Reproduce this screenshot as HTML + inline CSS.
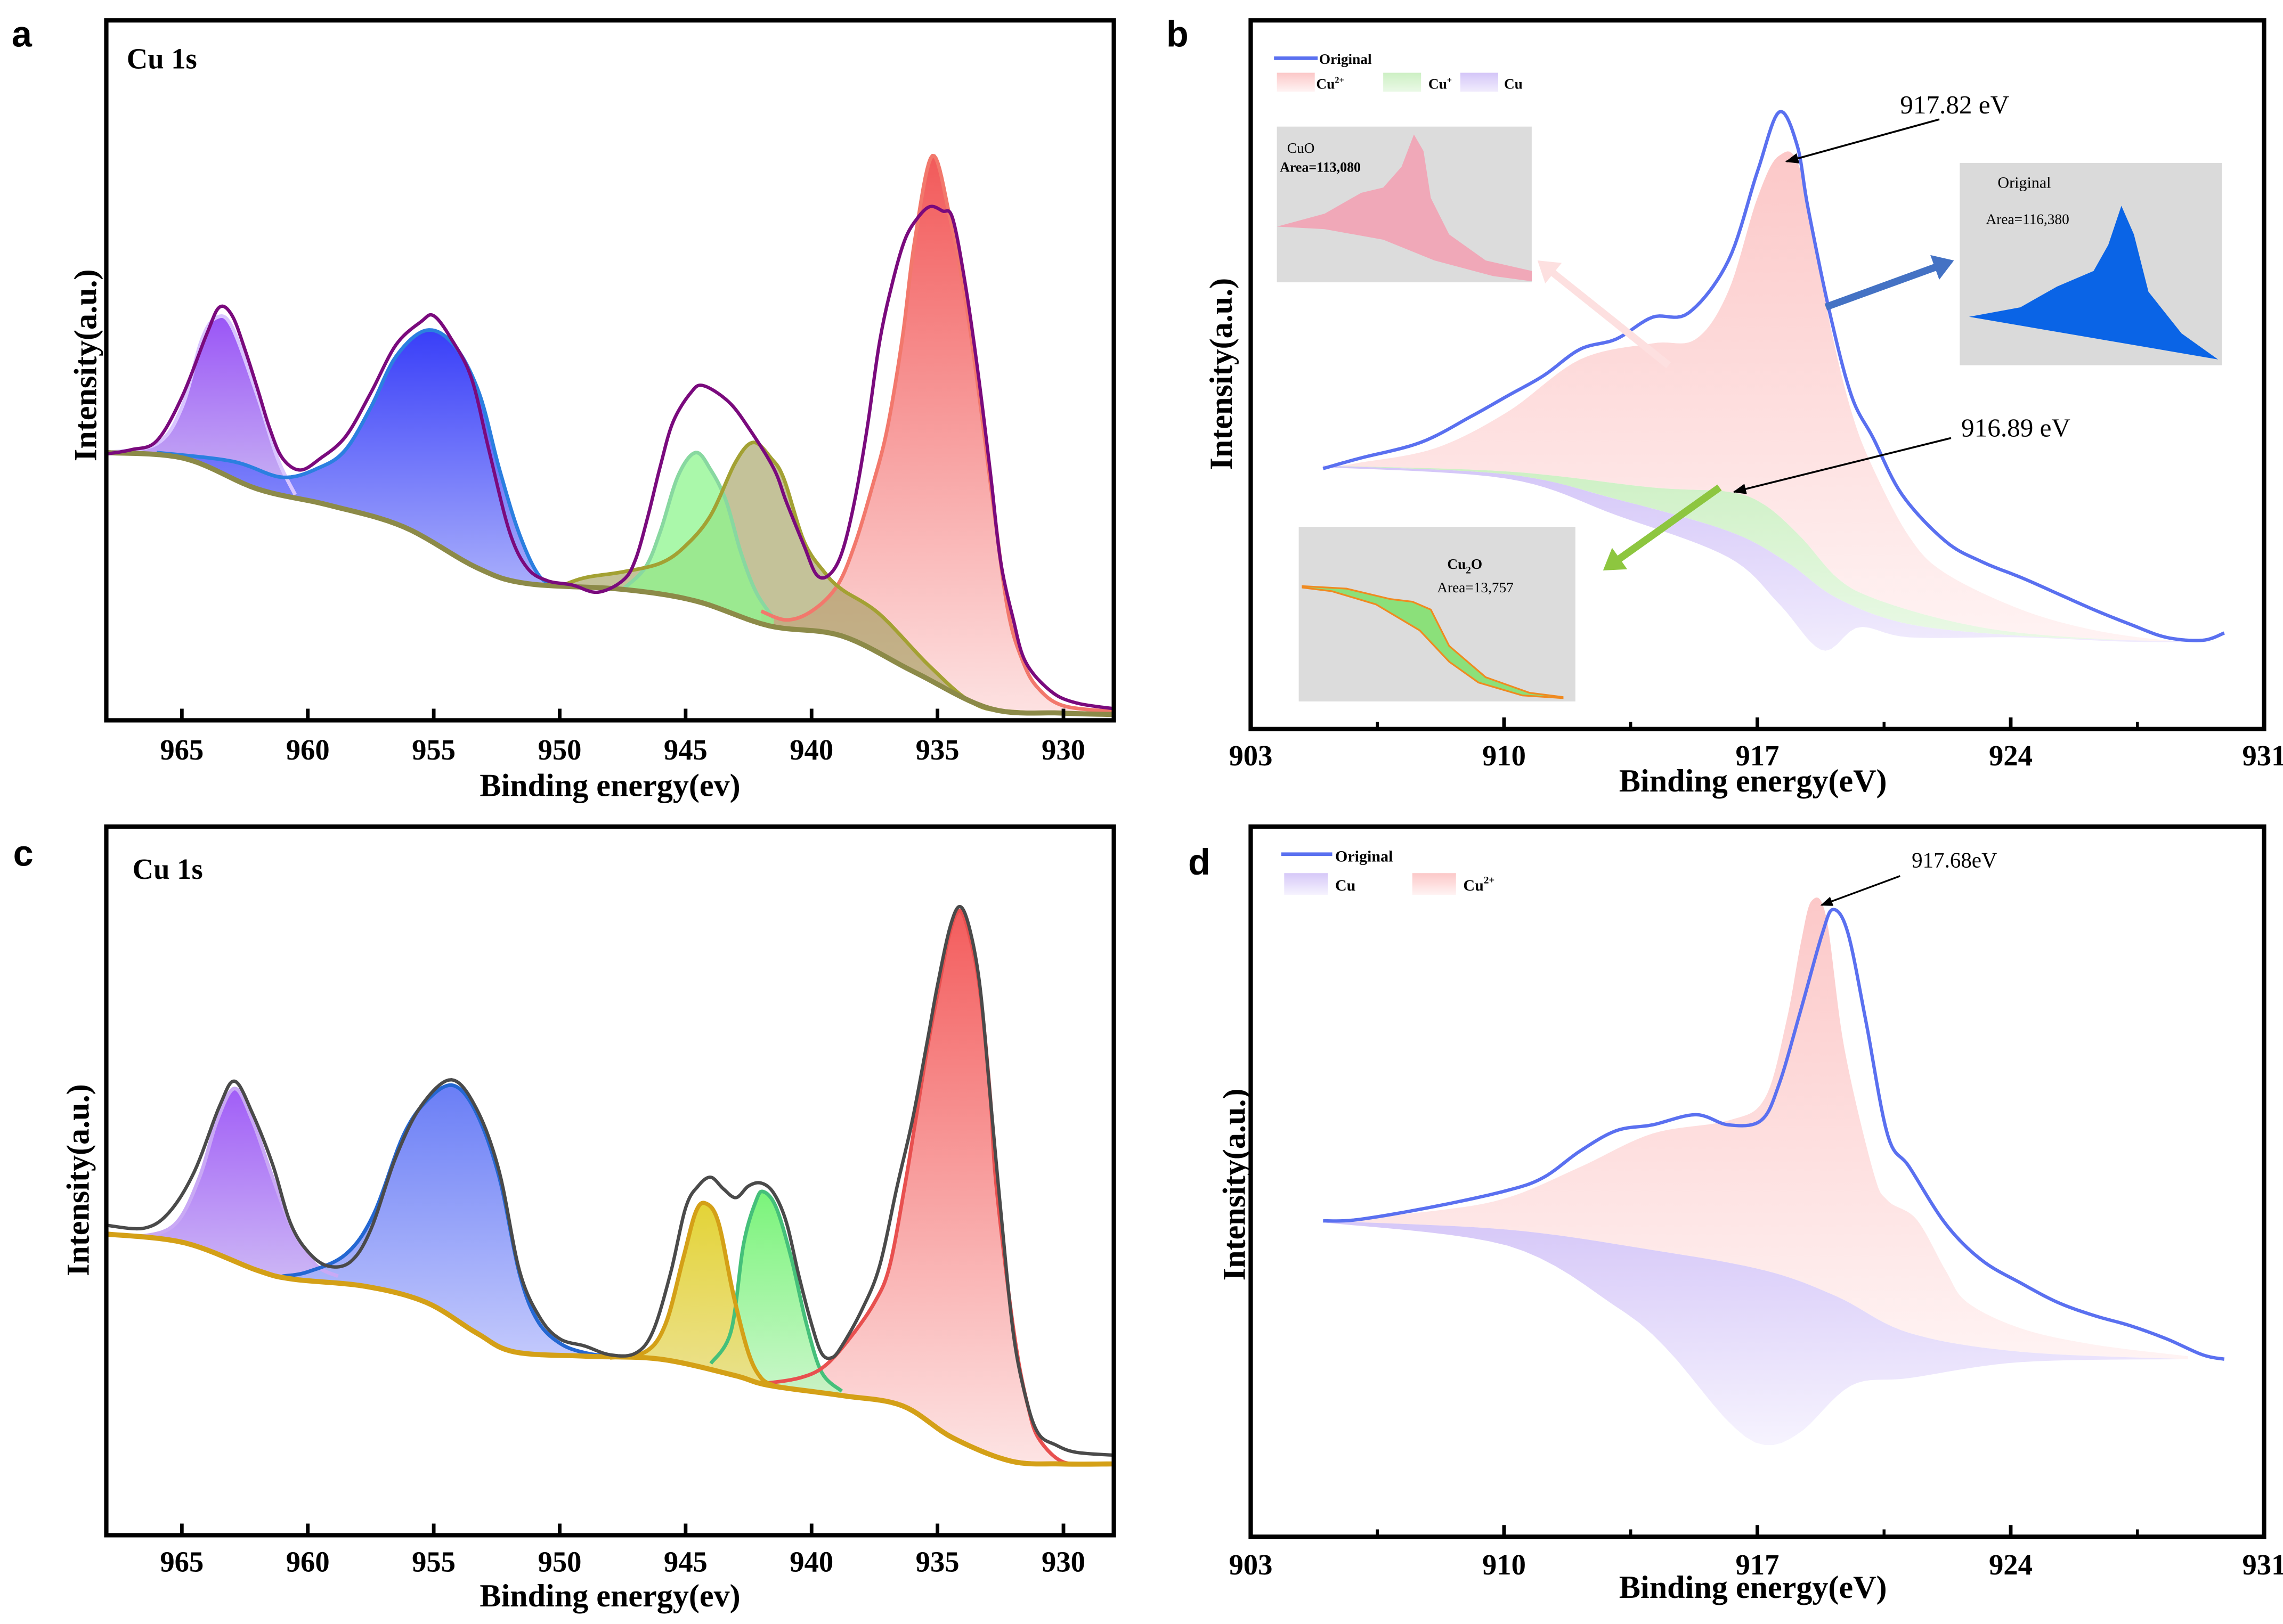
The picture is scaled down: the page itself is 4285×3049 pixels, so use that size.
<!DOCTYPE html>
<html><head><meta charset="utf-8">
<style>
html,body{margin:0;padding:0;background:#fff;}
svg{display:block;}
text{font-family:"Liberation Serif",serif;}
.lbl{font-family:"Liberation Sans",sans-serif;font-weight:bold;}
</style></head>
<body>
<svg id="fig" xmlns="http://www.w3.org/2000/svg" width="4285" height="3049" viewBox="0 0 1568 1116" preserveAspectRatio="none">
<defs>
<linearGradient id="gPurA" x1="0" y1="0" x2="0" y2="1"><stop offset="0" stop-color="#9a55f6"/><stop offset="1" stop-color="#c9b4f4"/></linearGradient>
<linearGradient id="gBlueA" x1="0" y1="0" x2="0" y2="1"><stop offset="0" stop-color="#2e34f8"/><stop offset="1" stop-color="#a3a9fb"/></linearGradient>
<linearGradient id="gRedA" x1="0" y1="0" x2="0" y2="1"><stop offset="0" stop-color="#f25a5a"/><stop offset="1" stop-color="#fde2e2"/></linearGradient>
<linearGradient id="gPurC" x1="0" y1="0" x2="0" y2="1"><stop offset="0" stop-color="#a15ef7"/><stop offset="1" stop-color="#cdb8f5"/></linearGradient>
<linearGradient id="gBlueC" x1="0" y1="0" x2="0" y2="1"><stop offset="0" stop-color="#6a7ef6"/><stop offset="1" stop-color="#c3c9fc"/></linearGradient>
<linearGradient id="gYelC" x1="0" y1="0" x2="0" y2="1"><stop offset="0" stop-color="#e2d12c"/><stop offset="1" stop-color="#ebe08a"/></linearGradient>
<linearGradient id="gGreC" x1="0" y1="0" x2="0" y2="1"><stop offset="0" stop-color="#6cf36c"/><stop offset="1" stop-color="#c4f5c4"/></linearGradient>
<linearGradient id="gRedC" x1="0" y1="0" x2="0" y2="1"><stop offset="0" stop-color="#f35d5d"/><stop offset="1" stop-color="#fde4e4"/></linearGradient>
<linearGradient id="gPinkB" x1="0" y1="0" x2="0" y2="1"><stop offset="0" stop-color="#fcc8c8"/><stop offset="1" stop-color="#fff3f3"/></linearGradient>
<linearGradient id="gGreB" x1="0" y1="0" x2="0" y2="1"><stop offset="0" stop-color="#cdf0c4"/><stop offset="1" stop-color="#eaf9e6"/></linearGradient>
<linearGradient id="gCuB" x1="0" y1="0" x2="0" y2="1"><stop offset="0" stop-color="#d4c6f8"/><stop offset="1" stop-color="#f1ecfd"/></linearGradient>
<linearGradient id="gCuD" x1="0" y1="0" x2="0" y2="1"><stop offset="0" stop-color="#d6c8f8"/><stop offset="1" stop-color="#f6f3fe"/></linearGradient>
<marker id="ah" viewBox="0 0 10 10" refX="9" refY="5" markerWidth="7" markerHeight="7" orient="auto"><path d="M0,1 L10,5 L0,9 z" fill="#000"/></marker>
</defs>

<!-- panel letters -->
<text class="lbl" x="8" y="32" font-size="25">a</text>
<text class="lbl" x="801" y="32" font-size="25">b</text>
<text class="lbl" x="9" y="595" font-size="25">c</text>
<text class="lbl" x="816" y="601" font-size="25">d</text>

<g id="pa"></g>
<g id="pb"></g>
<g id="pc"></g>
<g id="pd"></g>
</svg>
<script>
// ===== Panel a data: [binding energy eV, intensity a.u.] =====
const aBackground=[[968,184],[964.9,180],[962,159],[959.2,148],[956.2,133],[953.3,105],[951.3,94],[947.5,90],[944.6,82],[941.7,65],[938.8,58],[935.9,33],[932.9,8],[930.1,5],[928,4]];
const aPurplePeak=[[968,184],[966,190],[965,215],[964.2,262],[963.6,277],[963,270],[962,223],[961.2,180],[960.5,155]];
const aBluePeak=[[966,184],[963,178],[961,167],[959.5,174],[958.5,186],[957.5,215],[956.5,250],[955.3,268],[954.2,258],[953.2,225],[952.4,173],[951.6,128],[950.8,99],[950,92]];
const aGreenPeak=[[947.5,90],[946.6,105],[946,130],[945.3,168],[944.6,184],[944,172],[943.4,151],[942.8,115],[942.2,88],[941.5,70]];
const aOlivePeak=[[950,92],[949,98],[947.5,102],[946,108],[945,120],[944,141],[943,178],[942.3,191],[941.6,180],[941.1,166],[940.3,123],[939.5,102],[938.8,90],[937.3,73],[935.3,37],[933.6,12],[932,6],[928,4]];
const aRedPeak=[[942,75],[941,69],[940,75],[939,92],[938.3,120],[937.6,160],[937,200],[936.4,262],[935.9,330],[935.2,388],[934.5,345],[933.9,290],[933.4,230],[932.8,150],[932.2,75],[931.6,40],[931,22],[930,10],[928,6]];
const aRaw=[[968,183],[967,186],[966,192],[965,222],[964,266],[963.5,284],[963,278],[962.5,255],[962,228],[961.5,200],[961,180],[960.3,172],[959.5,180],[958.5,195],[957.5,225],[956.5,258],[955.5,274],[955,278],[954.3,262],[953.5,235],[952.8,185],[952,130],[951.3,105],[950.5,96],[949.5,93],[948.5,88],[947.5,96],[947,110],[946.5,140],[946,175],[945.5,205],[944.8,225],[944.3,230],[943.3,219],[942.5,201],[941.5,173],[941,150],[940.3,120],[939.8,100],[939.3,100],[938.8,115],[938.3,150],[937.8,200],[937.3,260],[936.8,300],[936.3,330],[935.8,345],[935.3,353],[934.8,350],[934.4,345],[933.9,300],[933.4,240],[932.9,170],[932.5,110],[932,70],[931.5,40],[930.5,20],[929.5,12],[928,8]];
const aTicks=[965,960,955,950,945,940,935,930];

// ===== Panel c data =====
const cBackground=[[968,207],[964.9,201],[962,182],[960.6,176],[957.7,171],[955.3,160],[953.3,139],[951.8,126],[948.9,123],[946,121],[943.1,110],[941.7,103],[938.8,96],[936.4,89],[934.4,67],[932.1,51],[930.1,49],[928,49]];
const cPurplePeak=[[968,207],[966.4,206],[965.2,215],[964.3,246],[963.6,285],[962.9,307],[962.2,285],[961.4,246],[960.6,210],[959.7,186],[958.8,178]];
const cBluePeak=[[961,178],[960,181],[958.5,193],[957.4,220],[956.2,275],[955.2,300],[954.2,309],[953.3,290],[952.4,246],[951.6,180],[950.9,148],[950,132],[948.9,125],[947.5,122]];
const cYellowPeak=[[948,122],[946.6,126],[945.8,145],[945.1,190],[944.6,222],[944.2,228],[943.7,215],[943.1,165],[942.5,125],[942,108],[941.5,103]];
const cGreenPeak=[[944,118],[943.2,140],[942.7,200],[942.2,230],[941.9,236],[941.4,225],[940.8,190],[940.2,145],[939.6,112],[938.8,99]];
const cRedPeak=[[942,104],[940.5,108],[939.5,116],[938.5,135],[937.5,160],[936.9,185],[936.3,240],[935.9,282],[935.4,335],[935,372],[934.5,415],[934.1,429],[933.7,410],[933.3,372],[932.9,300],[932.7,246],[932.2,170],[931.8,121],[931.4,88],[931,67],[930.1,51],[929,49],[928,49]];
const cRaw=[[968,213],[966.5,211],[965.5,222],[964.5,250],[963.5,295],[962.9,312],[962.2,290],[961.4,255],[960.7,215],[960,195],[959.2,185],[958.3,188],[957.5,210],[956.5,260],[955.5,295],[954.3,313],[953.3,293],[952.4,250],[951.6,182],[950.8,150],[950,135],[949,130],[948,124],[947,125],[946.3,140],[945.6,180],[945,225],[944.5,240],[944,246],[943.5,238],[943,232],[942.5,240],[942,242],[941.5,235],[941,215],[940.5,178],[940,145],[939.6,125],[939.2,122],[938.8,130],[938,155],[937.3,185],[936.6,240],[936,285],[935.4,340],[935,378],[934.5,418],[934.1,432],[933.7,415],[933.3,375],[932.9,300],[932.5,225],[932,140],[931.5,95],[931,70],[930.3,62],[929.5,57],[928,55]];

// ===== Panel b data =====
const bOriginal=[[905,179],[906,186],[907.7,197],[909.1,215],[910.1,229],[911.1,243],[912.1,261],[913.1,268],[914.1,283],[915.1,286],[916.2,322],[917,383],[917.6,424],[918.1,401],[918.4,358],[919,286],[919.6,229],[920.2,200],[921,161],[922.2,129],[923.2,115],[924.3,104],[925.3,93],[926.3,82],[927.3,72],[928.3,63],[929.3,61],[929.9,66]];
const bCu2Top=[[905.5,181],[906,183],[908.1,193],[910.1,218],[912.1,254],[914.1,265],[915.3,268],[916.2,301],[917,365],[917.6,394],[918.2,383],[919,279],[919.6,218],[920.2,179],[921.2,132],[922.2,107],[924.3,82],[926.3,68],[928.3,61],[929.7,60]];
const bCuPlusTop=[[905,181],[910.1,177],[914.1,166],[916.2,163],[917.2,154],[918.2,132],[919.2,104],[920.2,90],[922.2,75],[924.3,66],[927.3,61],[929.7,60]];
const bCuTop=[[905,181],[910.1,175],[913.1,158],[916.2,136],[917.8,115],[919.2,90],[921.2,72],[924.3,64],[927.3,61],[929.7,60]];
const bCuBottom=[[905,180],[910.1,172],[913.1,147],[916.2,118],[917.6,86],[918.8,54],[919.8,70],[921.2,63],[924.3,63],[927.3,60],[929.7,60]];
const bdTicks=[903,910,917,924,931];
const bdMinorTicks=[906.5,913.5,920.5,927.5];

// ===== Panel d data =====
const dOriginal=[[905,217],[906,218],[908.1,227],[910.1,238],[911.1,247],[912.1,265],[913.1,279],[914.1,283],[915.3,290],[916.2,283],[917.1,286],[917.6,311],[918.2,362],[918.8,415],[919.1,431],[919.5,415],[920,354],[920.6,276],[921.2,254],[922.2,215],[923.2,190],[924.3,174],[925.3,161],[926.3,152],[927.3,145],[928.3,136],[929.3,125],[929.9,122]];
const dCu2Top=[[905,217],[908.1,224],[910.1,233],[912.1,254],[914.1,277],[916.2,286],[917.2,301],[917.8,354],[918.2,408],[918.5,437],[918.9,426],[919.4,336],[920.2,251],[920.6,231],[921.4,218],[922.2,183],[922.8,161],[924.3,143],[926.3,132],[928.9,124]];
const dCuTop=[[905,217],[910.1,211],[914.1,197],[917.2,183],[919.2,165],[921.2,140],[924.3,127],[928.9,122]];
const dCuBottom=[[905,216],[910.1,200],[913.1,158],[914.5,129],[916.2,79],[917.2,63],[918.2,72],[919.6,104],[921.2,109],[924.3,120],[928.9,122]];

const NS="http://www.w3.org/2000/svg";
function mk(parent,tag,attrs){const e=document.createElementNS(NS,tag);for(const k in attrs)e.setAttribute(k,attrs[k]);parent.appendChild(e);return e;}
function lin(d0,d1,r0,r1){return v=>r0+(v-d0)/(d1-d0)*(r1-r0);}
function dens(p){const out=[];const n=p.length;for(let i=0;i<n-1;i++){const p0=p[Math.max(i-1,0)],p1=p[i],p2=p[i+1],p3=p[Math.min(i+2,n-1)];for(let k=0;k<10;k++){const t=k/10,t2=t*t,t3=t2*t;const f=(a,b,c,d)=>0.5*((2*b)+(-a+c)*t+(2*a-5*b+4*c-d)*t2+(-a+3*b-3*c+d)*t3);out.push([f(p0[0],p1[0],p2[0],p3[0]),f(p0[1],p1[1],p2[1],p3[1])]);}}out.push(p[n-1]);return out;}
function interp(d,e){for(let i=0;i<d.length-1;i++){const a=d[i][0],b=d[i+1][0];if((e-a)*(e-b)<=0){const t=(b===a)?0:(e-a)/(b-a);return d[i][1]+t*(d[i+1][1]-d[i][1]);}}const first=d[0],last=d[d.length-1];return Math.abs(e-first[0])<Math.abs(e-last[0])?first[1]:last[1];}
function pathOf(d,X,Y){return d.map((p,i)=>(i?"L":"M")+X(p[0]).toFixed(2)+","+Y(p[1]).toFixed(2)).join("");}
function line(g,pts,X,Y,stroke,w,name){const el=mk(g,"path",{d:pathOf(dens(pts),X,Y),fill:"none",stroke:stroke,"stroke-width":w,"stroke-linejoin":"round"});


return el;}
function area(g,top,bottom,X,Y,fill,name,op){const td=dens(top),bd=dens(bottom);const back=td.slice().reverse().map(p=>[p[0],interp(bd,p[0])]);const el=mk(g,"path",{d:pathOf(td.concat(back),X,Y)+"Z",fill:fill,"fill-opacity":op||1,stroke:"none"});


return el;}
function txt(g,x,y,s,size,opts,name){const t=mk(g,"text",Object.assign({x:x,y:y,"font-size":size},opts||{}));t.textContent=s;


return t;}

function frame(g,L,R,T,B,X,ticks,minor,titleY,tickY,yTitleX){
  const r=mk(g,"rect",{x:L,y:T,width:R-L,height:B-T,fill:"none",stroke:"#000","stroke-width":3});
  
  
  ticks.forEach(v=>{const x=X(v);const t=mk(g,"line",{x1:x,x2:x,y1:B,y2:B-8,stroke:"#000","stroke-width":2.5});
    
    
    txt(g,x,tickY,String(v),20,{"text-anchor":"middle","font-weight":"bold"},'x-tick-label');});
  (minor||[]).forEach(v=>{const x=X(v);const t=mk(g,"line",{x1:x,x2:x,y1:B,y2:B-5,stroke:"#000","stroke-width":2});
    
    });
  return r;
}

// ----- Panel a -----
(function(){
 const g=document.getElementById("pa");const X=lin(968,928,73,765),Y=v=>495-v;
 area(g,aPurplePeak,aBackground,X,Y,"url(#gPurA)","purple-peak-fill");
 area(g,aBluePeak,aBackground,X,Y,"url(#gBlueA)","blue-peak-fill",0.95);
 area(g,aRedPeak,aBackground,X,Y,"url(#gRedA)","red-peak-fill");
 area(g,aOlivePeak,aBackground,X,Y,"#9c9a55","olive-peak-fill",0.6);
 area(g,aGreenPeak,aBackground,X,Y,"#8ef58e","green-peak-fill",0.75);
 line(g,aPurplePeak,X,Y,"#d9c6ff",2.5,"purple-peak-line");
 line(g,aBluePeak,X,Y,"#2b7fe0",2.5,"blue-peak-line");
 line(g,aGreenPeak,X,Y,"#88d8a0",2.5,"green-peak-line");
 line(g,aRedPeak,X,Y,"#f2786c",2.5,"red-peak-line");
 line(g,aOlivePeak,X,Y,"#a3a133",2.5,"olive-peak-line");
 line(g,aBackground,X,Y,"#8c8a48",3.5,"background-line");
 line(g,aRaw,X,Y,"#7a0a7d",2.3,"raw-spectrum-line");
 frame(g,73,765,14,495,X,aTicks,null,541,522);
 txt(g,419,547,"Binding energy(ev)",22,{"text-anchor":"middle","font-weight":"bold"},"x-axis-title");
 txt(g,0,0,"Intensity(a.u.)",22,{"text-anchor":"middle","font-weight":"bold",transform:"translate(66,251) rotate(-90)"},"y-axis-title");
 txt(g,87,47,"Cu 1s",20,{"font-weight":"bold"},"spectrum-label");
})();

// ----- Panel c -----
(function(){
 const g=document.getElementById("pc");const X=lin(968,928,73,765),Y=v=>1055-v;
 area(g,cPurplePeak,cBackground,X,Y,"url(#gPurC)","purple-peak-fill");
 area(g,cBluePeak,cBackground,X,Y,"url(#gBlueC)","blue-peak-fill");
 area(g,cRedPeak,cBackground,X,Y,"url(#gRedC)","red-peak-fill");
 area(g,cGreenPeak,cBackground,X,Y,"url(#gGreC)","green-peak-fill",0.9);
 area(g,cYellowPeak,cBackground,X,Y,"url(#gYelC)","yellow-peak-fill",0.95);
 line(g,cPurplePeak,X,Y,"#c9a9f5",2.5,"purple-peak-line");
 line(g,cBluePeak,X,Y,"#2467d2",2.5,"blue-peak-line");
 line(g,cGreenPeak,X,Y,"#45c07a",2.5,"green-peak-line");
 line(g,cRedPeak,X,Y,"#e8504f",2.5,"red-peak-line");
 line(g,cYellowPeak,X,Y,"#d4a017",2.8,"yellow-peak-line");
 line(g,cBackground,X,Y,"#d4a017",3.5,"background-line");
 line(g,cRaw,X,Y,"#4a4a4a",2.3,"raw-spectrum-line");
 frame(g,73,765,568,1055,X,aTicks,null,1099,1080);
 txt(g,419,1104,"Binding energy(ev)",22,{"text-anchor":"middle","font-weight":"bold"},"x-axis-title");
 txt(g,0,0,"Intensity(a.u.)",22,{"text-anchor":"middle","font-weight":"bold",transform:"translate(61,811) rotate(-90)"},"y-axis-title");
 txt(g,91,604,"Cu 1s",20,{"font-weight":"bold"},"spectrum-label");
})();

// ----- Panel b -----
(function(){
 const g=document.getElementById("pb");const X=lin(903,931,859,1555),Y=v=>501-v;
 area(g,bCu2Top,bCuPlusTop,X,Y,"url(#gPinkB)","cu2plus-fill");
 area(g,bCuPlusTop,bCuTop,X,Y,"url(#gGreB)","cuplus-fill");
 area(g,bCuTop,bCuBottom,X,Y,"url(#gCuB)","cu-fill");
 line(g,bOriginal,X,Y,"#5a70f0",2.3,"original-line");
 frame(g,859,1555,14,501,X,bdTicks,bdMinorTicks,537,526);
 txt(g,1204,544,"Binding energy(eV)",22,{"text-anchor":"middle","font-weight":"bold"},"x-axis-title");
 txt(g,0,0,"Intensity(a.u.)",22,{"text-anchor":"middle","font-weight":"bold",transform:"translate(846,257) rotate(-90)"},"y-axis-title");
 // legend
 const l1=mk(g,"line",{x1:875,x2:905,y1:40,y2:40,stroke:"#5a70f0","stroke-width":2.5});
 
 
 txt(g,906,44,"Original",10,{"font-weight":"bold"},"legend-original");
 [[877,"url(#gPinkB)","Cu","2+",904],[950,"url(#gGreB)","Cu","+",981],[1003,"url(#gCuB)","Cu","",1033]].forEach((s,i)=>{
   const r=mk(g,"rect",{x:s[0],y:50,width:26,height:13,fill:s[1]});
   
   
   const t=txt(g,s[4],61,s[2],10,{"font-weight":"bold"},"legend-entry");
   if(s[3]){const sp=mk(t,"tspan",{dy:-4,"font-size":6});sp.textContent=s[3];}
 });
 // insets
 const i1=mk(g,"g",{});
 mk(i1,"rect",{x:877,y:87,width:175,height:107,fill:"#dcdcdc"});
 const Pz=(arr)=>arr.map(p=>(p[0]*0.503+784).toFixed(1)+","+(p[1]*0.358).toFixed(1)).join(" ");
 mk(i1,"polygon",{points:Pz([[185,435],[250,410],[300,370],[330,360],[355,320],[372,258],[385,290],[395,380],[420,450],[470,500],[533,520],[533,540],[480,530],[400,500],[330,460],[250,440]]),fill:"#f0a8b8"});
 txt(i1,884,105,"CuO",10,{},"cuo-inset-title");
 txt(i1,879,118,"Area=113,080",9.5,{"font-weight":"bold"},"cuo-inset-area");
 const i2=mk(g,"g",{});
 mk(i2,"rect",{x:1346,y:112,width:180,height:139,fill:"#dadada"});
 mk(i2,"polygon",{points:Pz([[1130,608],[1200,590],[1250,550],[1300,520],[1320,470],[1338,395],[1355,450],[1375,560],[1420,640],[1470,690]]),fill:"#0a64e6"});
 txt(i2,1372,129,"Original",11,{},"original-inset-title");
 txt(i2,1364,154,"Area=116,380",10,{},"original-inset-area");
 const i3=mk(g,"g",{});
 mk(i3,"rect",{x:892,y:362,width:190,height:120,fill:"#dcdcdc"});
 mk(i3,"polygon",{points:Pz([[220,1125],[280,1130],[340,1150],[370,1155],[395,1170],[420,1240],[470,1300],[530,1330],[575,1338],[575,1340],[520,1335],[460,1310],[420,1270],[380,1210],[320,1160],[260,1135],[220,1128]]),fill:"#8be07a",stroke:"#f08a20","stroke-width":1.2});
 const tc=txt(i3,994,391,"Cu",10,{"font-weight":"bold"},"cu2o-inset-title");const sb=mk(tc,"tspan",{dy:3,"font-size":7});sb.textContent="2";const so=mk(tc,"tspan",{dy:-3});so.textContent="O";
 txt(i3,987,407,"Area=13,757",10,{},"cu2o-inset-area");
 // arrows
 const a1=mk(g,"line",{x1:1332,y1:82,x2:1227,y2:111,stroke:"#000","stroke-width":1.3,"marker-end":"url(#ah)"});
 txt(g,1305,78,"917.82 eV",18,{},"annotation-917-82");
 const a2=mk(g,"line",{x1:1340,y1:301,x2:1191,y2:338,stroke:"#000","stroke-width":1.3,"marker-end":"url(#ah)"});
 txt(g,1347,300,"916.89 eV",18,{},"annotation-916-89");
 const fat=(x1,y1,x2,y2,c,w,name)=>{const dx=x2-x1,dy=y2-y1,L=Math.hypot(dx,dy),ux=dx/L,uy=dy/L,px=-uy,py=ux,h=14,hw=w*1.8;
   const bx=x2-ux*h,by=y2-uy*h;
   const p=mk(g,"polygon",{points:[[x1+px*w/2,y1+py*w/2],[bx+px*w/2,by+py*w/2],[bx+px*hw,by+py*hw],[x2,y2],[bx-px*hw,by-py*hw],[bx-px*w/2,by-py*w/2],[x1-px*w/2,y1-py*w/2]].map(q=>q[0].toFixed(1)+","+q[1].toFixed(1)).join(" "),fill:c});
   };
 fat(1146,251,1056,179,"#fde0e0",5,"cuo-pointer-arrow");
 fat(1254,211,1342,179,"#4472c4",5,"original-pointer-arrow");
 fat(1181,335,1101,392,"#8dc63f",5,"cu2o-pointer-arrow");
})();

// ----- Panel d -----
(function(){
 const g=document.getElementById("pd");const X=lin(903,931,859,1555),Y=v=>1056-v;
 area(g,dCu2Top,dCuTop,X,Y,"url(#gPinkB)","cu2plus-fill");
 area(g,dCuTop,dCuBottom,X,Y,"url(#gCuD)","cu-fill");
 line(g,dOriginal,X,Y,"#5a70f0",2.3,"original-line");
 frame(g,859,1555,568,1056,X,bdTicks,bdMinorTicks,1091,1082);
 txt(g,1204,1098,"Binding energy(eV)",22,{"text-anchor":"middle","font-weight":"bold"},"x-axis-title");
 txt(g,0,0,"Intensity(a.u.)",22,{"text-anchor":"middle","font-weight":"bold",transform:"translate(855,814) rotate(-90)"},"y-axis-title");
 const l1=mk(g,"line",{x1:880,x2:915,y1:587,y2:587,stroke:"#5a70f0","stroke-width":2.5});
 
 
 txt(g,917,592,"Original",11,{"font-weight":"bold"},"legend-original");
 const r1=mk(g,"rect",{x:882,y:600,width:30,height:15,fill:"url(#gCuD)"});
 txt(g,917,612,"Cu",11,{"font-weight":"bold"},"legend-cu");
 const r2=mk(g,"rect",{x:970,y:600,width:30,height:15,fill:"url(#gPinkB)"});
 const t2=txt(g,1005,612,"Cu",11,{"font-weight":"bold"},"legend-cu2plus");const s2=mk(t2,"tspan",{dy:-5,"font-size":7});s2.textContent="2+";
 const a=mk(g,"line",{x1:1305,y1:602,x2:1251,y2:622,stroke:"#000","stroke-width":1.2,"marker-end":"url(#ah)"});
 txt(g,1313,596,"917.68eV",15,{},"annotation-917-68");
})();
</script>
</body></html>
